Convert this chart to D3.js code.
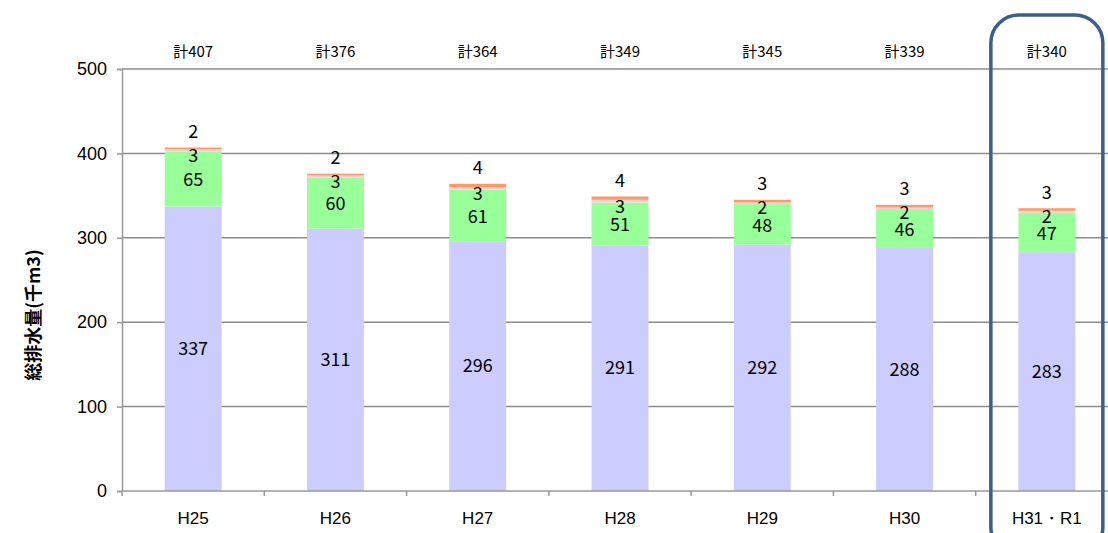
<!DOCTYPE html>
<html>
<head>
<meta charset="utf-8">
<style>
  body { margin: 0; background: #fff; }
  svg text { fill: #000; }
</style>
<script src="https://cdn.jsdelivr.net/npm/d3@7"></script>
</head>
<body>
<script>
// data
var years   = ["H25", "H26", "H27", "H28", "H29", "H30", "H31・R1"];
var part1   = [337, 311, 296, 291, 292, 288, 283];   // lavender
var part2   = [65, 60, 61, 51, 48, 46, 47];          // green
var part3   = [3, 3, 3, 3, 2, 2, 2];                 // pink
var part4   = [2, 2, 4, 4, 3, 3, 3];                 // orange
var totals  = [407, 376, 364, 349, 345, 339, 340];
var yTicks  = [0, 100, 200, 300, 400, 500];
var colors  = ["#ccccff", "#99ff99", "#ffccdd", "#ff9966"];

var width = 1108, height = 533;
var svg = d3.select("body").append("svg")
    .attr("width", width)
    .attr("height", height);

var x = d3.scaleBand()
    .domain(years)
    .range([122, 1118])
    .paddingInner(0.6)
    .paddingOuter(0.3);

var y = d3.scaleLinear()
    .domain([0, 500])
    .range([491, 69]);

// gridlines
svg.append("g").selectAll("line")
  .data(yTicks.slice(1))
  .enter().append("line")
    .attr("x1", 122).attr("x2", width)
    .attr("y1", d => y(d)).attr("y2", d => y(d))
    .style("stroke", "#8c8c8c")
    .style("stroke-width", 1.5);

// stacked bars
var rows = years.map(function (yr, i) {
  return { year: yr, a: part1[i], b: part2[i], c: part3[i], d: part4[i] };
});
var stack = d3.stack().keys(["a", "b", "c", "d"])(rows);

svg.append("g").selectAll("g")
  .data(stack)
  .enter().append("g")
    .style("fill", (d, i) => colors[i])
  .selectAll("rect")
  .data(d => d)
  .enter().append("rect")
    .attr("x", d => x(d.data.year))
    .attr("width", x.bandwidth())
    .attr("y", d => y(d[1]))
    .attr("height", d => y(d[0]) - y(d[1]));

// y axis
var yAxis = svg.append("g")
    .attr("transform", "translate(122,0)")
    .call(d3.axisLeft(y).tickValues(yTicks).tickSize(5).tickPadding(10));
yAxis.selectAll("line, path").style("stroke", "#999").style("stroke-width", 1.5);
yAxis.selectAll("text")
    .style("font-family", "'Liberation Sans', Arial, sans-serif")
    .style("font-size", "18px")
    .style("fill", "#000");

// x axis
var xAxis = svg.append("g")
    .attr("transform", "translate(0,491)");
xAxis.append("line")
    .attr("x1", 122).attr("x2", width)
    .style("stroke", "#999").style("stroke-width", 1.5);
xAxis.selectAll(".tk")
  .data(years)
  .enter().append("line")
    .attr("class", "tk")
    .attr("x1", d => x(d) - x.step() * 0.3).attr("x2", d => x(d) - x.step() * 0.3)
    .attr("y1", 0).attr("y2", 5)
    .style("stroke", "#999").style("stroke-width", 1.5);
xAxis.selectAll("text")
  .data(years)
  .enter().append("text")
    .attr("x", d => x(d) + x.bandwidth() / 2)
    .attr("y", 33)
    .attr("text-anchor", "middle")
    .style("font-family", "'Liberation Sans', Arial, sans-serif")
    .style("font-size", "17px")
    .text(d => d);

// y title
svg.append("text")
    .attr("transform", "translate(40,315) rotate(-90)")
    .attr("text-anchor", "middle")
    .style("font-family", "'Noto Sans CJK JP', sans-serif")
    .style("font-size", "18px")
    .style("font-weight", "bold")
    .text("総排水量(千m3)");

var lblFont = "'Noto Sans CJK JP', sans-serif";
var cx = d => x(d.year) + x.bandwidth() / 2;

var labels = svg.append("g")
    .attr("text-anchor", "middle")
    .style("font-family", lblFont)
    .style("font-size", "18px");

// lavender labels (centred)
labels.selectAll(".l1").data(rows).enter().append("text")
    .attr("x", cx).attr("y", d => y(d.a / 2))
    .attr("dy", "0.35em").text(d => d.a);
// green labels (centred)
labels.selectAll(".l2").data(rows).enter().append("text")
    .attr("x", cx).attr("y", d => y(d.a + d.b / 2) + 1)
    .attr("dy", "0.35em").text(d => d.b);
// pink labels, just under the green top
labels.selectAll(".l3").data(rows).enter().append("text")
    .attr("x", cx).attr("y", d => y(d.a + d.b) + 4)
    .attr("dy", "0.35em").text(d => d.c);
// orange labels, above the bar
labels.selectAll(".l4").data(rows).enter().append("text")
    .attr("x", cx).attr("y", d => y(d.a + d.b + d.c + d.d) - 16)
    .attr("dy", "0.35em").text(d => d.d);

// totals
svg.append("g").selectAll("text")
  .data(years)
  .enter().append("text")
    .attr("x", d => x(d) + x.bandwidth() / 2)
    .attr("y", 52)
    .attr("dy", "0.35em")
    .attr("text-anchor", "middle")
    .style("font-family", lblFont)
    .style("font-size", "15px")
    .text((d, i) => "計" + totals[i]);

// highlight frame around the last year
var last = years[years.length - 1];
svg.append("rect")
    .attr("x", x(last) + x.bandwidth() / 2 - 56)
    .attr("y", 15)
    .attr("width", 112)
    .attr("height", 540)
    .attr("rx", 28).attr("ry", 28)
    .style("fill", "none")
    .style("stroke", "#3c5e8c")
    .style("stroke-width", 3.5);
</script>
</body>
</html>
